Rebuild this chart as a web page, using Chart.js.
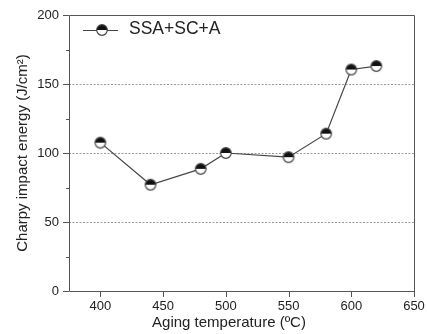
<!DOCTYPE html>
<html><head><meta charset="utf-8">
<script src="https://cdn.jsdelivr.net/npm/chart.js@4/dist/chart.umd.min.js"></script>
<style>html,body{margin:0;padding:0;background:#fff}#w{width:427px;height:334px}</style>
</head><body><div id="w"><canvas id="c" width="427" height="334"></canvas></div>
<script>
const temps = [400, 440, 480, 500, 550, 580, 600, 620];
const energy = [107.5, 77, 88.5, 100, 97, 114, 160.5, 163];
const seriesName = 'SSA+SC+A';
const xTicks = [400, 450, 500, 550, 600, 650];
const yTicks = [0, 50, 100, 150, 200];
const yMinorTicks = [25, 75, 125, 175];
const yGrid = [50, 100, 150];
const xLabel = 'Aging temperature (ºC)';
const yLabel = 'Charpy impact energy (J/cm²)';

function makeMarker(r) {
  const s = Math.ceil(r * 2 + 3);
  const cv = document.createElement('canvas');
  cv.width = s; cv.height = s;
  const g = cv.getContext('2d');
  const c = s / 2;
  g.beginPath(); g.arc(c, c, r, 0, Math.PI * 2); g.fillStyle = '#fff'; g.fill();
  g.beginPath(); g.arc(c, c, r, Math.PI, 2 * Math.PI); g.closePath(); g.fillStyle = '#111'; g.fill();
  g.beginPath(); g.arc(c, c, r, 0, Math.PI * 2); g.lineWidth = 1.2; g.strokeStyle = '#444'; g.stroke();
  return cv;
}
const marker = makeMarker(5.3);

const framePlugin = {
  id: 'frame',
  beforeDatasetsDraw(chart) {
    const { ctx, chartArea: a, scales: { x, y } } = chart;
    ctx.save();
    ctx.strokeStyle = '#9a9a9a'; ctx.lineWidth = 1; ctx.setLineDash([2, 1.5]);
    yGrid.forEach(v => {
      const py = Math.round(y.getPixelForValue(v)) + 0.5;
      ctx.beginPath(); ctx.moveTo(a.left, py); ctx.lineTo(a.right, py); ctx.stroke();
    });
    ctx.restore();
  },
  afterDraw(chart) {
    const { ctx, chartArea: a, scales: { x, y } } = chart;
    ctx.save();
    ctx.strokeStyle = '#555'; ctx.lineWidth = 1;
    ctx.beginPath();
    ctx.moveTo(a.left + 0.5, a.bottom + 0.5); ctx.lineTo(a.left + 0.5, a.top + 0.5);
    ctx.lineTo(a.right + 0.5, a.top + 0.5); ctx.lineTo(a.right + 0.5, a.bottom + 0.5);
    ctx.lineTo(a.left + 0.5, a.bottom + 0.5);
    ctx.stroke();
    yTicks.forEach(v => {
      const py = Math.round(y.getPixelForValue(v)) + 0.5;
      ctx.beginPath(); ctx.moveTo(a.left - 6, py); ctx.lineTo(a.left, py); ctx.stroke();
    });
    yMinorTicks.forEach(v => {
      const py = Math.round(y.getPixelForValue(v)) + 0.5;
      ctx.beginPath(); ctx.moveTo(a.left - 3, py); ctx.lineTo(a.left, py); ctx.stroke();
    });
    xTicks.forEach(v => {
      const px = Math.round(x.getPixelForValue(v)) + 0.5;
      ctx.beginPath(); ctx.moveTo(px, a.bottom); ctx.lineTo(px, a.bottom + 6); ctx.stroke();
    });
    // x title
    ctx.fillStyle = '#222'; ctx.font = '15px "Liberation Sans", Arial, sans-serif';
    ctx.textAlign = 'center'; ctx.textBaseline = 'middle';
    ctx.fillText(xLabel, 229, 323);
    // legend
    const ly = 30;
    ctx.strokeStyle = '#444'; ctx.lineWidth = 1;
    ctx.beginPath(); ctx.moveTo(83, ly + 0.5); ctx.lineTo(118, ly + 0.5); ctx.stroke();
    ctx.drawImage(marker, 102 - marker.width / 2, ly - marker.height / 2);
    ctx.font = '17.5px "Liberation Sans", Arial, sans-serif';
    ctx.textAlign = 'left';
    ctx.fillText(seriesName, 129, ly - 0.5);
    ctx.restore();
  }
};

new Chart(document.getElementById('c'), {
  type: 'scatter',
  data: {
    datasets: [{
      label: seriesName,
      data: temps.map((t, i) => ({ x: t, y: energy[i] })),
      showLine: true,
      borderColor: '#444',
      borderWidth: 1.2,
      pointStyle: marker,
      pointRadius: 6,
      pointHoverRadius: 6
    }]
  },
  options: {
    responsive: false,
    animation: false,
    events: [],
    layout: { padding: { top: 15, right: 13, bottom: 0, left: 0 } },
    plugins: { legend: { display: false }, tooltip: { enabled: false } },
    scales: {
      x: {
        type: 'linear', min: 375, max: 650,
        afterBuildTicks: s => { s.ticks = xTicks.map(v => ({ value: v })); },
        afterFit: s => { s.height = 43; s.paddingLeft = 0; s.paddingRight = 0; },
        grid: { display: false, drawTicks: false },
        border: { display: false },
        ticks: { color: '#222', font: { size: 13, family: '"Liberation Sans", Arial, sans-serif' }, padding: 8, maxRotation: 0 }
      },
      y: {
        type: 'linear', min: 0, max: 200,
        afterBuildTicks: s => { s.ticks = yTicks.map(v => ({ value: v })); },
        afterFit: s => { s.width = 69; s.paddingTop = 0; s.paddingBottom = 0; },
        grid: { display: false, drawTicks: false },
        border: { display: false },
        ticks: { color: '#222', font: { size: 13, family: '"Liberation Sans", Arial, sans-serif' }, padding: 10 },
        title: { display: true, text: yLabel, color: '#222', font: { size: 15, family: '"Liberation Sans", Arial, sans-serif' }, padding: { top: 14, bottom: 0 } }
      }
    }
  },
  plugins: [framePlugin]
});
</script></body></html>
